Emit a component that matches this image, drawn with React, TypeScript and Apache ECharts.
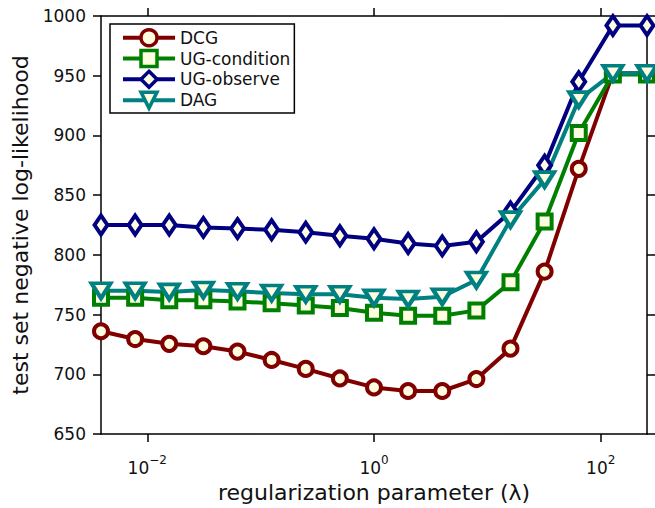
import React, { useEffect, useRef } from "react";
import * as echarts from "echarts";

const lambdas = [0.00390625, 0.0078125, 0.015625, 0.03125, 0.0625, 0.125, 0.25, 0.5, 1, 2, 4, 8, 16, 32, 64, 128, 256];
const dcg = [736, 729.5, 725.5, 723.5, 719, 712, 704.5, 696.5, 689, 686, 686, 696, 721.5, 786, 872, 952, 952];
const ugCondition = [764, 764, 762, 762, 761, 759.5, 757.5, 755.5, 751.5, 749, 749, 753.5, 777, 828, 902, 951, 951];
const ugObserve = [825, 825, 825, 823, 822, 821, 819, 816, 813.5, 809.5, 807.5, 811, 836, 875, 945, 992, 992];
const dag = [770, 770, 769, 770.5, 769.5, 768, 767, 767, 764, 763, 765, 779, 829.5, 863, 930, 952, 952];
const xTicks = [0.01, 1, 100];
const yMin = 650;
const yMax = 1000;
const yStep = 50;

const FONT = "DejaVu Sans";
const FILL = "#fffde0";

function pairs(ys: number[]) {
  return lambdas.map((x, i) => [x, ys[i]]);
}

export default function App() {
  const ref = useRef<HTMLDivElement>(null);
  useEffect(() => {
    if (!ref.current) return;
    const chart = echarts.init(ref.current, undefined, { renderer: "svg" });
    const mk = (name: string, ys: number[], color: string, symbol: string, size: any, rotate = 0) => ({
      name,
      type: "line",
      data: pairs(ys),
      symbol,
      symbolSize: size,
      symbolRotate: rotate,
      showAllSymbol: true,
      lineStyle: { color, width: 4 },
      itemStyle: { color: FILL, borderColor: color, borderWidth: 4 },
      emphasis: { disabled: true },
      z: 2,
    });
    const axisLineStyle = { color: "#000", width: 1.5 };
    const xBase = {
      type: "log",
      logBase: 10,
      min: lambdas[0],
      max: lambdas[lambdas.length - 1],
      splitLine: { show: false },
      minorTick: { show: false },
      axisLine: { show: true, lineStyle: axisLineStyle },
      axisTick: { show: true, inside: false, length: 8, lineStyle: axisLineStyle, customValues: xTicks },
    };
    const yBase = {
      type: "value",
      min: yMin,
      max: yMax,
      interval: yStep,
      splitLine: { show: false },
      axisLine: { show: true, lineStyle: axisLineStyle },
      axisTick: { show: true, inside: false, length: 8, lineStyle: axisLineStyle },
    };
    chart.setOption({
      animation: false,
      backgroundColor: "#fff",
      textStyle: { fontFamily: FONT },
      grid: { left: 101, right: 8, top: 16, bottom: 73, containLabel: false },
      xAxis: [
        {
          ...xBase,
          position: "bottom",
          name: "regularization parameter (λ)",
          nameLocation: "middle",
          nameGap: 47,
          nameTextStyle: { fontFamily: FONT, fontSize: 22, color: "#111" },
          axisLabel: {
            show: true,
            margin: 20,
            customValues: xTicks,
            formatter: (v: number) => {
              const e = Math.round(Math.log10(v));
              return `{b|10}{s|${e < 0 ? "−" : ""}${Math.abs(e)}}`;
            },
            rich: {
              b: { fontFamily: FONT, fontSize: 17, color: "#111", verticalAlign: "bottom", lineHeight: 22 },
              s: { fontFamily: FONT, fontSize: 12, color: "#111", verticalAlign: "top", lineHeight: 22 },
            },
          },
        },
        {
          ...xBase,
          position: "top",
          axisLabel: { show: false },
        },
      ],
      yAxis: [
        {
          ...yBase,
          position: "left",
          name: "test set negative log-likelihood",
          nameLocation: "middle",
          nameGap: 70,
          nameTextStyle: { fontFamily: FONT, fontSize: 22, color: "#111" },
          axisLabel: {
            show: true,
            margin: 15,
            fontFamily: FONT,
            fontSize: 17,
            color: "#111",
            formatter: (v: number) => String(v),
          },
        },
        {
          ...yBase,
          position: "right",
          axisLabel: { show: false },
        },
      ],
      legend: {
        show: true,
        orient: "vertical",
        left: 110,
        top: 24,
        padding: [4, 4, 3, 11],
        itemWidth: 52,
        itemHeight: 20,
        itemGap: 1.3,
        borderColor: "#000",
        borderWidth: 1.5,
        borderRadius: 0,
        backgroundColor: "#fff",
        selectedMode: false,
        textStyle: { fontFamily: FONT, fontSize: 17, color: "#111" },
        itemStyle: { borderWidth: 3.5 },
        lineStyle: { width: 4 },
        data: ["DCG", "UG-condition", "UG-observe", "DAG"],
      },
      series: [
        mk("DCG", dcg, "#800000", "circle", 14),
        mk("UG-condition", ugCondition, "#008000", "rect", 14),
        mk("UG-observe", ugObserve, "#000080", "diamond", [13, 19]),
        mk("DAG", dag, "#008080", "triangle", [19, 15], 180),
      ],
    });
    return () => chart.dispose();
  }, []);
  return <div ref={ref} style={{ width: 655, height: 508, position: "absolute", left: 0, top: 0 }} />;
}
